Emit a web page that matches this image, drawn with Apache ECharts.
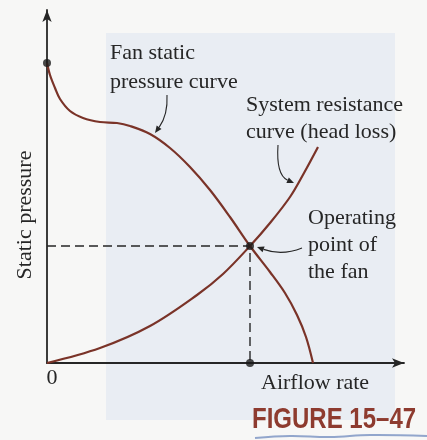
<!DOCTYPE html>
<html>
<head>
<meta charset="utf-8">
<script src="https://cdn.jsdelivr.net/npm/echarts@6/dist/echarts.min.js"></script>
<style>
html,body{margin:0;padding:0;background:#f7f7f6;}
#c{width:427px;height:440px;}
</style>
</head>
<body>
<div id="c"></div>
<script>
// Schematic units (no numeric ticks on the reference)
const fanPressure = [
  [0,300],[3,288],[8,275],[13,264],[23,252],[36,245],[53,241],[70,240],[83,237],
  [103,229],[123,215],[143,196],[163,173],[183,146],[203,117],[223,91],[238,70],[250,48],[259,26],[266,0]
];
const systemResistance = [
  [0,0],[53,15],[103,37],[150,68],[176,89],[203,117],[223,140],[243,166],[257,190],[271,216]
];
const operatingPoint = [203,117];
const shutoffPoint = [0,300];
const xAxisTitle = 'Airflow rate';
const yAxisTitle = 'Static pressure';
const originLabel = '0';
const fanLabel = 'Fan static\npressure curve';
const systemLabel = 'System resistance\ncurve (head loss)';
const opLabel = 'Operating\npoint of\nthe fan';
const figureLabel = 'FIGURE 15\u201347';

const chart = echarts.init(document.getElementById('c'));
const curveColor = '#7a3328';
const inkColor = '#262626';
const serif = '"Liberation Serif","DejaVu Serif",serif';

function arrow(p1, cp, p2) {
  const dx = p2[0]-cp[0], dy = p2[1]-cp[1];
  const L = Math.hypot(dx,dy)||1; const ux=dx/L, uy=dy/L;
  const hl = 7, hw = 3;
  const bx = p2[0]-ux*hl, by = p2[1]-uy*hl;
  return [
    {type:'bezierCurve', shape:{x1:p1[0],y1:p1[1],cpx1:cp[0],cpy1:cp[1],x2:bx,y2:by},
     style:{stroke:inkColor,lineWidth:1.1,fill:null}, z:10},
    {type:'polygon', shape:{points:[[p2[0],p2[1]],[bx-uy*hw,by+ux*hw],[bx+uy*hw,by-ux*hw]]},
     style:{fill:inkColor}, z:10}
  ];
}

function txt(x,y,text,extra){
  return {type:'text', x:x, y:y, z:10,
    style:Object.assign({text:text, fill:inkColor, font:'22px '+serif, lineHeight:27, textVerticalAlign:'middle'}, extra||{})};
}

const graphics = [
  {type:'rect', shape:{x:106,y:33,width:289,height:387}, style:{fill:'#e9edf3'}, z:-10, silent:true},
  txt(110,39,fanLabel,{lineHeight:29, textVerticalAlign:'top'}),
  txt(246,119,systemLabel,{}),
  txt(308,245,opLabel,{}),
  txt(52,378,originLabel,{textAlign:'center'}),
  txt(261,383,xAxisTitle,{}),
  {type:'text', x:25, y:215, rotation:Math.PI/2, z:10,
   style:{text:yAxisTitle, fill:inkColor, font:'22px '+serif, textAlign:'center', textVerticalAlign:'middle'}},
  {type:'text', x:252, y:420, scaleX:0.8, z:10,
   style:{text:figureLabel, fill:'#8e3b2f', font:'bold 30px "Liberation Sans","DejaVu Sans",sans-serif', textVerticalAlign:'middle'}},
  {type:'polyline', shape:{points:[[255,438],[290,436],[330,437],[370,435],[427,436]], smooth:0.4},
   style:{stroke:'#4f6fb0',lineWidth:2,opacity:0.6}, z:5}
];
graphics.push(...arrow([167,95],[168,115],[155,133]));
graphics.push(...arrow([278,145],[276,175],[294,183]));
graphics.push(...arrow([302,248],[282,256],[257,247]));

chart.setOption({
  backgroundColor:'#f7f7f6',
  animation:false,
  grid:{left:47, top:10, width:357, height:353},
  xAxis:{type:'value', min:0, max:357, splitLine:{show:false}, axisTick:{show:false}, axisLabel:{show:false},
    axisLine:{show:true, symbol:['none','arrow'], symbolSize:[7,12], lineStyle:{color:inkColor,width:1.8}}},
  yAxis:{type:'value', min:0, max:353, splitLine:{show:false}, axisTick:{show:false}, axisLabel:{show:false},
    axisLine:{show:true, symbol:['none','arrow'], symbolSize:[7,12], lineStyle:{color:inkColor,width:1.8}}},
  series:[
    {type:'line', data:fanPressure, smooth:0.35, showSymbol:false, lineStyle:{color:curveColor,width:2.2}, z:3},
    {type:'line', data:systemResistance, smooth:0.35, showSymbol:false, lineStyle:{color:curveColor,width:2.2}, z:3},
    {type:'line', data:[[0,operatingPoint[1]],operatingPoint,[operatingPoint[0],0]], showSymbol:false,
      lineStyle:{color:inkColor,width:1.4,type:[9,5]}, z:2},
    {type:'scatter', data:[shutoffPoint,operatingPoint,[operatingPoint[0],0]], symbolSize:8,
      itemStyle:{color:'#1a1a1a'}, z:5}
  ],
  graphic:graphics
});
</script>
</body>
</html>
